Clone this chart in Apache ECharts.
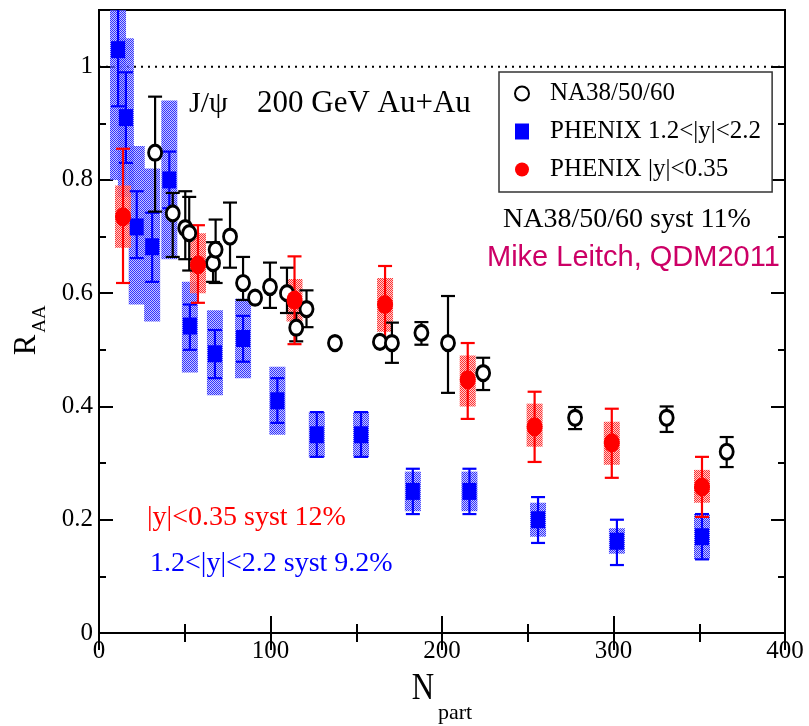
<!DOCTYPE html>
<html>
<head>
<meta charset="utf-8">
<script src="https://cdn.jsdelivr.net/npm/echarts@6/dist/echarts.min.js"></script>
<style>html,body{margin:0;padding:0;background:#fff;}#c{width:809px;height:726px;}</style>
</head>
<body>
<div id="c"></div>
<script>
// ---- data ----
const xTicks = [0, 100, 200, 300, 400];
const yTicks = [0, 0.2, 0.4, 0.6, 0.8, 1];
const refX = [0, 400];
const refY = [1, 1];

const naX  = [32.7, 43, 50.3, 52.6, 66.5, 68, 76.4, 84, 91, 99.7, 109.6, 115, 121, 137.6, 163.8, 170.8, 188, 203.5, 224, 277.6, 331, 366];
const naY  = [0.848, 0.741, 0.715, 0.706, 0.653, 0.677, 0.700, 0.618, 0.592, 0.611, 0.600, 0.539, 0.572, 0.512, 0.514, 0.512, 0.530, 0.512, 0.459, 0.380, 0.380, 0.320];
const naLo = [0.744, 0.664, 0.660, 0.640, 0.620, 0.618, 0.645, 0.588, 0.592, 0.574, 0.565, 0.515, 0.540, 0.512, 0.514, 0.477, 0.509, 0.424, 0.429, 0.360, 0.355, 0.293];
const naHi = [0.947, 0.777, 0.780, 0.770, 0.690, 0.730, 0.760, 0.664, 0.592, 0.654, 0.645, 0.565, 0.605, 0.512, 0.514, 0.548, 0.549, 0.595, 0.486, 0.399, 0.400, 0.346];

const redX     = [14, 57.7, 114, 166.8, 215, 254, 299, 351.6];
const redY     = [0.735, 0.650, 0.588, 0.580, 0.447, 0.364, 0.336, 0.258];
const redLo    = [0.618, 0.583, 0.510, 0.510, 0.378, 0.302, 0.274, 0.205];
const redHi    = [0.855, 0.720, 0.665, 0.648, 0.512, 0.426, 0.396, 0.311];
const redSysLo = [0.680, 0.600, 0.550, 0.532, 0.400, 0.329, 0.297, 0.230];
const redSysHi = [0.790, 0.706, 0.625, 0.627, 0.490, 0.405, 0.373, 0.288];

const blueX     = [11.1, 15.7, 22, 31, 41, 53, 67.6, 84, 104, 127, 152.8, 183, 216, 256, 302, 351.6];
const blueY     = [1.03, 0.91, 0.717, 0.682, 0.80, 0.542, 0.493, 0.52, 0.41, 0.35, 0.35, 0.25, 0.25, 0.20, 0.162, 0.17];
const blueLo    = [0.93, 0.83, 0.662, 0.62, 0.75, 0.50, 0.45, 0.479, 0.371, 0.311, 0.311, 0.21, 0.21, 0.159, 0.12, 0.13];
const blueHi    = [1.15, 0.99, 0.78, 0.742, 0.85, 0.58, 0.535, 0.56, 0.45, 0.39, 0.39, 0.29, 0.29, 0.24, 0.20, 0.21];
const blueSysLo = [0.80, 0.77, 0.58, 0.55, 0.66, 0.46, 0.42, 0.45, 0.35, 0.31, 0.31, 0.215, 0.215, 0.17, 0.14, 0.13];
const blueSysHi = [1.26, 1.05, 0.86, 0.82, 0.94, 0.62, 0.57, 0.59, 0.47, 0.39, 0.39, 0.285, 0.285, 0.23, 0.185, 0.21];

const NA_NAME = 'NA38/50/60';
const BLUE_NAME = 'PHENIX 1.2<|y|<2.2';
const RED_NAME = 'PHENIX |y|<0.35';

// ---- rendering ----
const SERIF = '"Liberation Serif", "DejaVu Serif", serif';
const SANS = '"Liberation Sans", Arial, sans-serif';
const ELLIPSE = 'path://M0,10 A10,10 0 1,1 20,10 A10,10 0 1,1 0,10 Z';

function makePattern(dot, light) {
  const c = document.createElement('canvas');
  c.width = 2; c.height = 2;
  const g = c.getContext('2d');
  g.clearRect(0, 0, 2, 2);
  g.fillStyle = light; g.fillRect(1, 0, 1, 1); g.fillRect(0, 1, 1, 1);
  g.fillStyle = dot; g.fillRect(0, 0, 1, 1); g.fillRect(1, 1, 1, 1);
  return { image: c, repeat: 'repeat' };
}
const bluePat = makePattern('rgba(40,40,255,0.95)', 'rgba(160,160,255,0.6)');
const redPat = makePattern('rgba(255,40,40,0.95)', 'rgba(255,170,170,0.6)');

function boxRender(fill, halfW) {
  return function (params, api) {
    const x = api.value(0), lo = api.value(1), hi = api.value(2);
    const a = api.coord([x, hi]), b = api.coord([x, lo]);
    return { type: 'rect', shape: { x: a[0] - halfW, y: a[1], width: 2 * halfW, height: b[1] - a[1] }, style: { fill: fill } };
  };
}
function errRender(color, capW) {
  return function (params, api) {
    const x = api.value(0), lo = api.value(1), hi = api.value(2);
    if (lo === hi) return;
    const a = api.coord([x, lo]), b = api.coord([x, hi]);
    const st = { stroke: color, lineWidth: 2.2 };
    return { type: 'group', children: [
      { type: 'line', shape: { x1: a[0], y1: a[1], x2: b[0], y2: b[1] }, style: st },
      { type: 'line', shape: { x1: a[0] - capW, y1: a[1], x2: a[0] + capW, y2: a[1] }, style: st },
      { type: 'line', shape: { x1: b[0] - capW, y1: b[1], x2: b[0] + capW, y2: b[1] }, style: st }
    ]};
  };
}
function triples(xs, lo, hi) { return xs.map((x, i) => [x, lo[i], hi[i]]); }
function pairs(xs, ys) { return xs.map((x, i) => [x, ys[i]]); }

const tickLbl = { fontSize: 25, fontFamily: SERIF, color: '#000' };
const tickLine = { color: '#000', width: 2 };
function xAx(pos, showLabel) {
  return {
    type: 'value', position: pos, min: xTicks[0], max: xTicks[xTicks.length - 1], interval: xTicks[1] - xTicks[0],
    axisLine: { show: false },
    axisTick: { show: true, inside: true, length: 17, lineStyle: tickLine },
    minorTick: { show: true, splitNumber: 2, length: 9, lineStyle: tickLine },
    axisLabel: Object.assign({ show: showLabel, margin: 6 }, tickLbl),
    splitLine: { show: false }, minorSplitLine: { show: false }
  };
}
function yAx(pos, interval, len, showLabel) {
  return {
    type: 'value', position: pos, min: 0, max: 1.1, interval: interval,
    axisLine: { show: false },
    axisTick: { show: true, inside: true, length: len, lineStyle: tickLine },
    axisLabel: Object.assign({ show: showLabel, margin: 6,
      formatter: function (v) { return yTicks.some(t => Math.abs(t - v) < 1e-6) ? String(+v.toFixed(1)) : ''; } }, tickLbl),
    splitLine: { show: false }
  };
}

const chart = echarts.init(document.getElementById('c'), null, { renderer: 'canvas' });
chart.setOption({
  animation: false,
  backgroundColor: '#fff',
  grid: { left: 99, right: 24, top: 10, bottom: 93, show: true, borderColor: '#000', borderWidth: 2, backgroundColor: 'transparent', outerBoundsMode: 'none', containLabel: false },
  xAxis: [xAx('bottom', true), xAx('top', false)],
  yAxis: [yAx('left', 0.2, 14, true), yAx('left', 0.1, 7, false), yAx('right', 0.2, 14, false), yAx('right', 0.1, 7, false)],
  legend: {
    orient: 'vertical', left: 499, top: 72,
    padding: [8, 11, 9, 15], itemGap: 11, itemWidth: 14, itemHeight: 16,
    borderColor: '#333', borderWidth: 1.5, borderRadius: 0, backgroundColor: '#fff',
    textStyle: { fontSize: 25, fontFamily: SERIF, color: '#000', lineHeight: 27, padding: [0, 0, 0, 16] },
    data: [NA_NAME, BLUE_NAME, RED_NAME]
  },
  series: [
    { type: 'line', data: pairs(refX, refY), symbol: 'none', silent: true, z: 1,
      lineStyle: { color: '#000', width: 2, type: [2, 5] } },
    { type: 'custom', name: 'blue syst', data: triples(blueX, blueSysLo, blueSysHi), renderItem: boxRender(bluePat, 8), clip: true, z: 2, encode: { x: 0, y: [1, 2] } },
    { type: 'custom', name: 'red syst', data: triples(redX, redSysLo, redSysHi), renderItem: boxRender(redPat, 8), clip: true, z: 3, encode: { x: 0, y: [1, 2] } },
    { type: 'custom', name: 'blue err', data: triples(blueX, blueLo, blueHi), renderItem: errRender('#0000ff', 7), clip: true, z: 4, encode: { x: 0, y: [1, 2] } },
    { type: 'custom', name: 'na err', data: triples(naX, naLo, naHi), renderItem: errRender('#000', 7), clip: true, z: 5, encode: { x: 0, y: [1, 2] } },
    { type: 'custom', name: 'red err', data: triples(redX, redLo, redHi), renderItem: errRender('#ff0000', 7), clip: true, z: 6, encode: { x: 0, y: [1, 2] } },
    { type: 'scatter', name: BLUE_NAME, data: pairs(blueX, blueY), symbol: 'rect', symbolSize: [14, 17], z: 7,
      itemStyle: { color: '#0000ff', opacity: 1 } },
    { type: 'scatter', name: NA_NAME, data: pairs(naX, naY), symbol: ELLIPSE, symbolSize: [13, 15], z: 8,
      itemStyle: { color: '#fff', borderColor: '#000', borderWidth: 3, opacity: 1 } },
    { type: 'scatter', name: RED_NAME, data: pairs(redX, redY), symbol: ELLIPSE, symbolSize: [16, 19], z: 9,
      itemStyle: { color: '#ff0000', opacity: 1 } }
  ],
  graphic: [
    { type: 'text', x: 189, y: 104, style: { text: 'J/ψ', fontSize: 30, fontFamily: SERIF, fill: '#000', verticalAlign: 'middle' } },
    { type: 'text', x: 257, y: 104, style: { text: '200 GeV Au+Au', fontSize: 31, fontFamily: SERIF, fill: '#000', verticalAlign: 'middle' } },
    { type: 'text', x: 503, y: 220, style: { text: 'NA38/50/60 syst 11%', fontSize: 28, fontFamily: SERIF, fill: '#000', verticalAlign: 'middle' } },
    { type: 'text', x: 487, y: 258, style: { text: 'Mike Leitch, QDM2011', fontSize: 29, fontFamily: SANS, fill: '#cc0066', verticalAlign: 'middle' } },
    { type: 'text', x: 147, y: 518, style: { text: '|y|<0.35 syst 12%', fontSize: 28, fontFamily: SERIF, fill: '#ff0000', verticalAlign: 'middle' } },
    { type: 'text', x: 150, y: 564, style: { text: '1.2<|y|<2.2 syst 9.2%', fontSize: 28, fontFamily: SERIF, fill: '#0000ff', verticalAlign: 'middle' } },
    { type: 'text', x: 27, y: 345, rotation: Math.PI / 2, style: { text: 'R', fontSize: 31, fontFamily: SERIF, fill: '#000', align: 'center', verticalAlign: 'middle' } },
    { type: 'text', x: 40, y: 319, rotation: Math.PI / 2, style: { text: 'AA', fontSize: 19, fontFamily: SERIF, fill: '#000', align: 'center', verticalAlign: 'middle' } },
    { type: 'text', x: 423, y: 689, scaleY: 1.25, style: { text: 'N', fontSize: 31, fontFamily: SERIF, fill: '#000', align: 'center', verticalAlign: 'middle' } },
    { type: 'text', x: 455, y: 713, style: { text: 'part', fontSize: 22, fontFamily: SERIF, fill: '#000', align: 'center', verticalAlign: 'middle' } }
  ]
});
</script>
</body>
</html>
